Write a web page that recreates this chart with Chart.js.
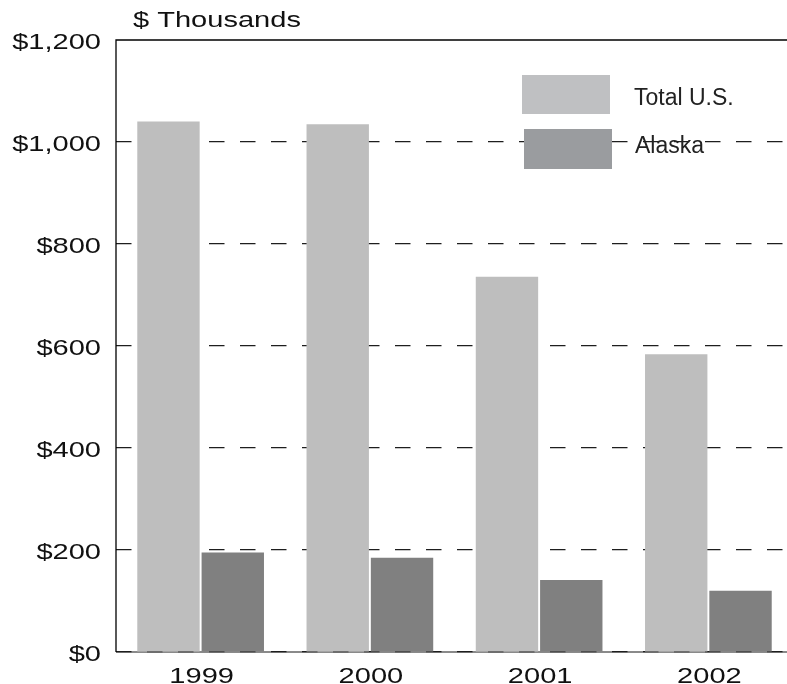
<!DOCTYPE html>
<html>
<head>
<meta charset="utf-8">
<script src="https://cdn.jsdelivr.net/npm/chart.js@4"></script>
<style>
  html, body { margin: 0; padding: 0; background: #fff; overflow: hidden; }
  #wrap { width: 787px; height: 684px; overflow: hidden; }
</style>
</head>
<body>
<div id="wrap"><canvas id="chart" width="800" height="684"></canvas></div>
<script>
/* ---- DATA ---- */
const years = ['1999', '2000', '2001', '2002'];
const totalUS = [1040, 1035, 736, 584];
const alaska = [195, 185, 141, 120];
const yTickValues = [0, 200, 400, 600, 800, 1000, 1200];
const seriesLabels = ['Total U.S.', 'Alaska'];
const unitLabel = '$ Thousands';

const FONT = "'Liberation Sans', Arial, sans-serif";
const STRETCH = 1.32;   // the original type is set wide

function wideText(ctx, text, x, y, align) {
  ctx.save();
  ctx.translate(x, y);
  ctx.scale(STRETCH, 1);
  ctx.textAlign = align;
  ctx.fillText(text, 0, 0);
  ctx.restore();
}

/* ---- AXIS LINES, LABELS, LEGEND ---- */
const framePlugin = {
  id: 'frame',
  beforeDraw(chart) {
    const { ctx, chartArea: a } = chart;
    // bottom axis (grey, dashes of the $0 gridline go over it)
    ctx.save();
    ctx.strokeStyle = '#8a8a8a';
    ctx.lineWidth = 2;
    ctx.beginPath();
    ctx.moveTo(a.left, a.bottom);
    ctx.lineTo(a.right, a.bottom);
    ctx.stroke();
    ctx.restore();
  },
  afterDraw(chart) {
    const { ctx, chartArea: a, scales } = chart;
    ctx.save();
    ctx.strokeStyle = '#000';
    ctx.lineWidth = 1.3;
    ctx.beginPath();
    ctx.moveTo(a.right, a.top);
    ctx.lineTo(a.left, a.top);
    ctx.lineTo(a.left, a.bottom);
    ctx.stroke();

    ctx.fillStyle = '#111';
    ctx.font = '22px ' + FONT;
    ctx.textBaseline = 'alphabetic';

    // y tick labels
    scales.y.ticks.forEach(t => {
      const y = scales.y.getPixelForValue(t.value);
      wideText(ctx, '$' + t.value.toLocaleString('en-US'), 101, y + 9, 'right');
    });

    // x tick labels
    years.forEach((lbl, i) => {
      wideText(ctx, lbl, scales.x.getPixelForTick(i) + 1, 683, 'center');
    });

    // unit label
    wideText(ctx, unitLabel, 133, 27, 'left');

    // legend
    ctx.fillStyle = '#bfc0c2';
    ctx.fillRect(522, 75, 88, 39);
    ctx.fillStyle = '#9a9c9f';
    ctx.fillRect(524, 129, 88, 40);
    ctx.fillStyle = '#222';
    ctx.font = '23px ' + FONT;
    ctx.textAlign = 'left';
    ctx.fillText(seriesLabels[0], 634, 105);
    ctx.fillText(seriesLabels[1], 635, 153);
    ctx.restore();
  }
};

/* ---- CHART ---- */
new Chart(document.getElementById('chart'), {
  type: 'bar',
  data: {
    labels: years,
    datasets: [
      { label: seriesLabels[0], data: totalUS, backgroundColor: '#bebebe',
        categoryPercentage: 0.76, barPercentage: 0.97 },
      { label: seriesLabels[1], data: alaska, backgroundColor: '#808080',
        categoryPercentage: 0.76, barPercentage: 0.97 }
    ]
  },
  options: {
    responsive: false,
    devicePixelRatio: 1,
    animation: false,
    layout: { padding: { top: 40, right: 7, left: 0, bottom: 0 } },
    plugins: { legend: { display: false }, tooltip: { enabled: false } },
    scales: {
      x: {
        grid: { display: false },
        border: { display: false },
        ticks: { display: false },
        afterFit: s => { s.height = 32; }
      },
      y: {
        min: 0,
        max: 1200,
        afterBuildTicks: s => { s.ticks = yTickValues.map(v => ({ value: v })); },
        afterFit: s => { s.width = 116; },
        grid: {
          drawTicks: false,
          color: c => (c.tick && c.tick.value === 1200) ? 'rgba(0,0,0,0)' : '#1e1e1e',
          lineWidth: 1.2
        },
        border: { display: false, dash: [15.5, 15.5] },
        ticks: { display: false }
      }
    }
  },
  plugins: [framePlugin]
});
</script>
</body>
</html>
